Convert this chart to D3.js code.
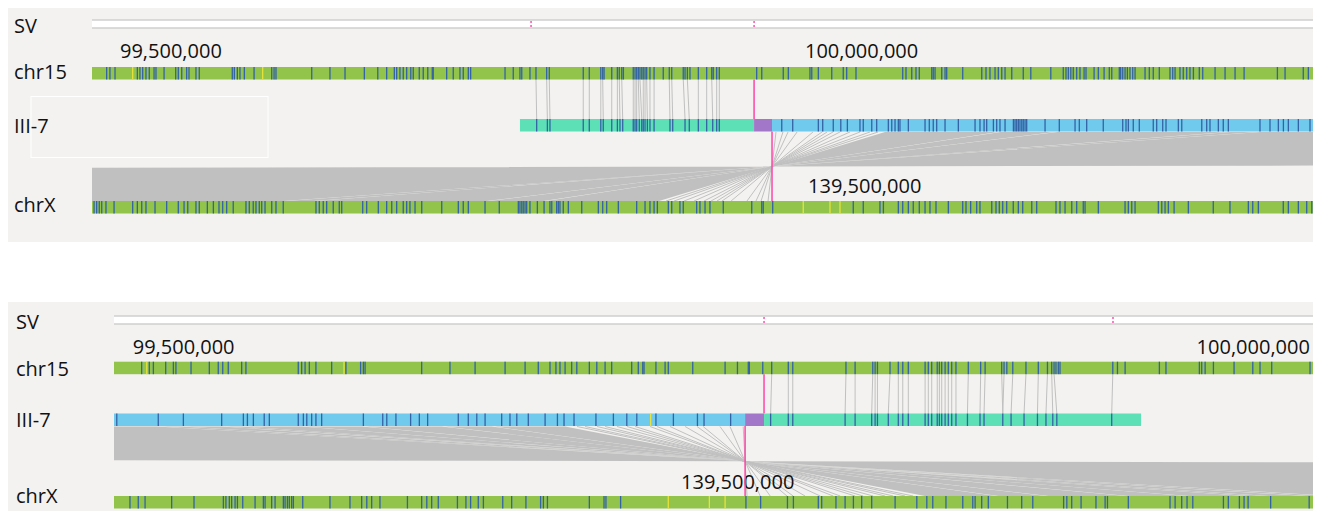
<!DOCTYPE html>
<html>
<head>
<meta charset="utf-8">
<script src="https://cdn.jsdelivr.net/npm/d3@7"></script>
<style>
  body { margin: 0; background: #fff; overflow: hidden; }
  text { font-family: "Open Sans", sans-serif; fill: #111; }
</style>
</head>
<body>
<svg id="chart" width="1323" height="511"></svg>
<script>
// ---- upper view (positions in kb from the window start) ----
const p1Chr15Start = 99479560;
const p1ChrXStart = 138977300;
const p1Span = 891.3;
const p1Ticks15 = [99500000, 100000000];
const p1TicksX = [139500000];
const p1Sv = [320.5, 483.3];
const p1Chr15Marks = [10.7, 13.1, 16.8, 33.1, 35.0, 37.0, 39.4, 41.8, 45.3, 46.7, 52.6, 61.1, 63.0, 65.5, 69.1, 70.8, 75.9, 78.3, 102.4, 103.9, 106.1, 108.0, 111.2, 118.3, 131.2, 132.9, 134.3, 160.4, 173.7, 184.7, 198.8, 208.6, 215.1, 220.7, 222.4, 224.8, 227.2, 229.7, 232.7, 234.5, 238.9, 241.8, 245.1, 248.4, 249.1, 258.9, 263.7, 268.6, 271.0, 274.7, 276.4, 301.5, 307.5, 312.4, 313.7, 319.7, 324.1, 331.9, 333.8, 358.6, 363.0, 371.4, 372.8, 373.8, 379.4, 383.5, 384.9, 386.7, 387.9, 395.1, 396.4, 397.6, 398.8, 400.0, 401.3, 402.4, 403.7, 404.9, 407.3, 410.3, 417.0, 421.4, 423.2, 431.6, 432.9, 434.6, 436.5, 442.6, 448.7, 452.4, 453.5, 456.0, 457.9, 485.2, 488.9, 504.6, 508.3, 524.1, 525.4, 530.2, 540.0, 548.4, 550.9, 557.7, 591.8, 594.2, 598.4, 601.5, 603.9, 613.0, 614.1, 615.4, 620.3, 622.7, 623.9, 635.6, 649.5, 652.6, 655.5, 659.2, 661.6, 664.1, 666.5, 671.4, 679.8, 685.3, 699.9, 709.0, 711.0, 712.7, 714.5, 716.3, 718.8, 721.2, 724.2, 725.6, 731.5, 734.6, 738.8, 742.6, 744.4, 749.9, 750.9, 752.4, 754.1, 755.8, 757.7, 759.7, 761.4, 768.7, 771.8, 774.7, 779.1, 786.9, 788.9, 790.6, 794.2, 796.6, 799.1, 801.5, 804.0, 808.3, 810.8, 819.8, 827.1, 834.4, 841.0, 865.3, 870.9, 884.2, 887.9];
const p1Chr15Yellow = [29.7, 124.6];
const p1Segments = [[312.4, 483.3, 'chr15'], [483.3, 496.4, 'ins'], [496.4, 900, 'chrX']];
const p1ContigMarks = [324.6, 332.4, 334.3, 358.6, 363.0, 371.4, 373.2, 379.4, 383.5, 385.4, 387.4, 395.1, 396.4, 397.6, 399.5, 401.3, 402.4, 403.7, 405.4, 407.3, 410.3, 421.9, 423.9, 432.9, 436.0, 442.6, 448.7, 453.1, 456.0, 457.9, 503.5, 511.5, 530.2, 533.4, 541.1, 546.6, 551.4, 560.6, 563.0, 569.2, 572.8, 581.3, 583.8, 586.2, 588.6, 589.8, 595.9, 608.1, 611.2, 614.1, 616.6, 622.7, 632.4, 644.6, 648.2, 651.2, 653.1, 658.0, 660.4, 662.8, 666.5, 672.6, 673.8, 675.0, 676.2, 677.4, 678.7, 679.8, 681.1, 682.3, 695.7, 706.1, 717.6, 720.7, 726.1, 738.2, 752.4, 754.8, 756.5, 760.1, 764.5, 774.7, 777.2, 781.6, 784.0, 793.0, 795.5, 810.1, 813.7, 816.1, 822.2, 825.8, 829.5, 852.6, 859.9, 866.0, 869.7, 873.3, 880.6, 889.1];
const p1ContigYellow = [];
const p1ChrXMarks = [1.5, 3.4, 5.3, 7.1, 10.2, 16.1, 29.7, 33.1, 36.3, 39.4, 46.0, 54.5, 63.0, 67.2, 69.9, 75.9, 78.3, 84.2, 88.6, 92.7, 95.4, 98.3, 103.1, 112.4, 114.8, 117.7, 119.7, 122.1, 123.9, 126.3, 131.2, 134.3, 139.6, 163.5, 165.9, 168.8, 171.3, 176.1, 180.5, 182.3, 197.6, 200.5, 209.0, 215.1, 218.8, 222.4, 227.2, 229.7, 232.1, 235.8, 240.7, 255.3, 267.4, 271.0, 274.7, 286.9, 297.3, 311.2, 312.4, 313.7, 314.8, 316.1, 317.3, 319.7, 325.1, 330.0, 334.3, 335.6, 339.2, 340.4, 341.6, 344.0, 347.7, 357.5, 369.6, 372.8, 375.7, 384.2, 397.6, 403.7, 407.3, 410.3, 412.7, 420.7, 423.2, 429.2, 431.6, 441.4, 443.8, 447.5, 451.1, 460.8, 481.6, 488.9, 490.0, 496.9, 555.7, 563.0, 575.2, 577.7, 588.6, 591.8, 595.9, 599.5, 603.9, 608.1, 611.7, 616.1, 625.1, 635.6, 638.0, 641.4, 645.8, 648.2, 656.8, 659.9, 662.3, 664.8, 667.7, 672.5, 676.2, 679.4, 686.0, 689.6, 703.7, 706.6, 710.3, 715.2, 718.8, 723.6, 724.9, 734.6, 754.1, 756.5, 759.0, 761.4, 778.4, 780.9, 783.3, 785.7, 789.9, 800.3, 818.5, 830.7, 844.1, 847.3, 851.4, 869.6, 873.3, 880.6, 886.7, 890.4];
const p1ChrXYellow = [519.2, 538.7, 546.0];
// chr15 -> contig anchors [chr15, contig]
const p1Links = [[324.1, 324.6], [331.9, 332.4], [333.8, 334.3], [358.6, 358.6], [363.0, 363.0], [371.4, 371.4], [372.8, 373.2], [379.4, 379.4], [383.5, 383.5], [384.9, 385.4], [386.7, 387.4], [395.1, 395.1], [396.4, 396.4], [397.6, 397.6], [398.8, 399.5], [400.0, 401.3], [402.4, 402.4], [403.7, 403.7], [404.9, 405.4], [407.3, 407.3], [410.3, 410.3], [421.4, 421.9], [423.2, 423.9], [431.6, 432.9], [434.6, 436.0], [442.6, 442.6], [448.7, 448.7], [452.4, 453.1], [456.0, 456.0], [457.9, 457.9]];
// contig -> chrX single inverted anchors [contig, chrX]
const p1Fan = [[499.3, 493.5], [504.4, 488.4], [508.1, 484.7], [514.7, 478.1], [526.3, 466.5], [532.9, 459.9], [536.6, 456.2], [540.9, 451.9], [546.0, 446.8], [553.3, 439.5], [560.6, 432.2], [567.9, 424.9], [573.8, 419.0]];
// inverted blocks [contigA, contigB, chrXA, chrXB]
const p1Blocks = [[578.9, 661.4, 413.9, 331.4], [663.2, 703.0, 329.6, 289.8], [704.8, 829.3, 288.0, 163.5], [831.1, 851.2, 161.7, 141.6], [853.0, 15096, 139.8, -14103.2]];
const p1Breaks = [483.3, 496.4];

// ---- lower view ----
const p2Chr15Start = 99491200;
const p2ChrXStart = 139233500;
const p2Span = 563.5;
const p2Ticks15 = [99500000, 100000000];
const p2TicksX = [139500000];
const p2Sv = [305.5, 469.5];
const p2Chr15Marks = [13.0, 16.6, 18.5, 24.3, 27.9, 29.1, 36.2, 44.8, 49.0, 51.1, 53.7, 60.0, 62.0, 86.6, 88.2, 89.8, 91.8, 94.9, 102.3, 109.0, 115.9, 117.2, 118.0, 144.6, 157.9, 169.7, 183.8, 193.2, 199.4, 204.9, 207.7, 209.6, 212.0, 215.1, 217.5, 223.4, 226.9, 230.8, 233.9, 243.3, 246.4, 248.5, 249.1, 254.7, 259.0, 260.5, 272.0, 287.2, 293.0, 298.1, 298.6, 304.9, 309.1, 316.9, 319.0, 344.0, 348.3, 356.6, 357.7, 358.8, 364.7, 368.6, 370.7, 373.3, 381.2, 382.7, 384.3, 386.9, 387.9, 389.0, 390.6, 392.1, 393.7, 395.7, 401.5, 407.3, 409.4, 417.2, 418.3, 419.6, 422.4, 428.6, 434.4, 438.7, 440.7, 441.8, 442.7, 443.8, 444.6, 469.4, 471.6, 475.2, 491.3, 494.4, 510.1, 511.2, 512.8, 516.7, 526.4, 535.2, 538.6, 544.1, 562.1];
const p2Chr15Yellow = [15.4, 108.1];
const p2Segments = [[-10, 296.6, 'chrX'], [296.6, 305.5, 'ins'], [305.5, 482.7, 'chr15']];
const p2ContigMarks = [1.3, 20.8, 32.6, 50.6, 60.8, 62.7, 65.5, 70.6, 73.0, 86.6, 89.0, 90.6, 92.9, 94.9, 97.6, 117.2, 126.3, 128.2, 132.5, 139.4, 143.5, 147.4, 161.8, 166.5, 170.5, 174.4, 182.2, 186.1, 189.3, 194.7, 202.6, 208.4, 211.5, 216.2, 226.5, 234.7, 241.0, 245.7, 254.7, 262.9, 274.2, 277.3, 289.8, 308.6, 316.9, 319.0, 343.6, 348.3, 356.1, 357.7, 358.8, 363.9, 368.6, 370.7, 373.3, 381.2, 382.7, 384.3, 386.9, 387.9, 389.0, 390.6, 392.1, 393.7, 395.7, 401.1, 407.0, 408.9, 417.7, 421.6, 427.7, 434.0, 438.0, 441.2, 443.1, 468.9];
const p2ContigYellow = [252.2];
const p2ChrXMarks = [7.5, 11.4, 14.6, 27.1, 37.6, 51.4, 52.6, 54.2, 55.3, 56.9, 58.0, 60.5, 66.3, 70.2, 71.0, 74.1, 75.7, 79.6, 80.4, 81.5, 82.4, 83.5, 84.3, 88.7, 101.5, 110.9, 116.4, 118.8, 121.1, 125.0, 137.9, 144.6, 147.0, 149.3, 152.4, 161.4, 165.4, 167.6, 171.2, 173.6, 182.7, 186.9, 193.6, 200.5, 201.8, 203.7, 223.4, 230.3, 231.2, 238.1, 297.0, 303.9, 316.5, 319.3, 331.0, 332.6, 339.3, 343.6, 347.5, 351.4, 356.1, 367.1, 377.3, 382.0, 384.8, 391.0, 398.9, 403.6, 404.7, 407.8, 410.9, 419.9, 426.6, 431.8, 446.3, 447.8, 450.1, 454.5, 461.5, 465.8, 466.9, 476.7, 496.3, 498.7, 501.8, 504.3, 507.0, 521.4, 523.7, 528.9, 531.1, 533.0, 543.6, 561.7];
const p2ChrXYellow = [260.5, 279.8, 287.2];
const p2Links = [[309.1, 308.6], [316.9, 316.9], [319.0, 319.0], [344.0, 343.6], [348.3, 348.3], [356.6, 356.1], [357.7, 357.7], [358.8, 358.8], [364.7, 363.9], [368.6, 368.6], [370.7, 370.7], [373.3, 373.3], [381.2, 381.2], [382.7, 382.7], [384.3, 384.3], [386.9, 386.9], [387.9, 387.9], [389.0, 389.0], [390.6, 390.6], [392.1, 392.1], [393.7, 393.7], [395.7, 395.7], [401.5, 401.1], [407.3, 407.0], [409.4, 408.9], [417.2, 417.7], [418.3, 417.7], [422.4, 421.6], [428.6, 427.7], [434.4, 434.0], [438.7, 438.0], [440.7, 441.2], [441.8, 443.1], [469.4, 468.9]];
const p2Fan = [[295.7, 297.5], [289.5, 303.7], [284.8, 308.4], [276.9, 316.3], [274.0, 319.2], [268.4, 324.8], [261.3, 331.9], [255.2, 338.0], [251.9, 341.3], [244.9, 348.3], [241.1, 352.1], [236.4, 356.8], [230.8, 362.4], [227.0, 366.2], [221.4, 371.8], [217.6, 375.6]];
const p2Blocks = [[212.0, 178.6, 381.2, 414.6], [177.5, 155.1, 415.7, 438.1], [154.0, 117.5, 439.2, 475.7], [116.4, 89.3, 476.8, 503.9], [88.2, 61.1, 505.0, 532.1], [60.0, 51.7, 533.2, 541.5], [50.6, 32.9, 542.6, 560.3], [31.8, 21.2, 561.4, 572.0], [20.0, -9103.4, 573.2, 9696.6]];
const p2Breaks = [305.5, 296.6];

const rowNames = ['SV', 'chr15', 'III-7', 'chrX'];

const colors = {
    bg: '#f3f2f0', green: '#92c34b', mark: '#3463a5', yellow: '#e8e23a',
    chr15: '#5de0b6', ins: '#a277c9', chrX: '#6fcaee', link: '#c0c0c0', pink: '#ff45a8'
};

const panels = [
    {
        top: 8, bottom: 242, x0: 92, x1: 1313, labelX: 14,
        sv: 20, chr15: 67, contig: 119, chrX: 201, barH: 12.5,
        labelY: [33, 79, 133, 212], tickY: 58, tickXY: 193,
        chr15Start: p1Chr15Start, chrXStart: p1ChrXStart, span: p1Span,
        ticks15: p1Ticks15, ticksX: p1TicksX, sv_: p1Sv,
        chr15Marks: p1Chr15Marks, chr15Yellow: p1Chr15Yellow,
        segments: p1Segments, contigMarks: p1ContigMarks, contigYellow: p1ContigYellow,
        chrXMarks: p1ChrXMarks, chrXYellow: p1ChrXYellow,
        links: p1Links, fan: p1Fan, blocks: p1Blocks, breaks: p1Breaks,
        labelBox: true
    },
    {
        top: 302, bottom: 511, x0: 114, x1: 1313, labelX: 16,
        sv: 316, chr15: 361.7, contig: 413.5, chrX: 496, barH: 12.5,
        labelY: [329, 376, 427, 503], tickY: 354, tickXY: 489,
        chr15Start: p2Chr15Start, chrXStart: p2ChrXStart, span: p2Span,
        ticks15: p2Ticks15, ticksX: p2TicksX, sv_: p2Sv,
        chr15Marks: p2Chr15Marks, chr15Yellow: p2Chr15Yellow,
        segments: p2Segments, contigMarks: p2ContigMarks, contigYellow: p2ContigYellow,
        chrXMarks: p2ChrXMarks, chrXYellow: p2ChrXYellow,
        links: p2Links, fan: p2Fan, blocks: p2Blocks, breaks: p2Breaks,
        labelBox: false
    }
];

const svg = d3.select('#chart');
const defs = svg.append('defs');
const fmt = d3.format(',');

function drawMarks(g, xs, scale, y, h, color, w) {
    g.append('g')
        .selectAll('rect')
        .data(xs)
        .join('rect')
        .attr('x', d => scale(d) - w / 2)
        .attr('y', y)
        .attr('width', w)
        .attr('height', h)
        .attr('fill', color);
}

panels.forEach((p, i) => {
    const g = svg.append('g');

    // bp scales for the tick labels, kb-offset scale for the marks
    const x15bp = d3.scaleLinear().domain([p.chr15Start, p.chr15Start + p.span * 1000]).range([p.x0, p.x1]);
    const xXbp = d3.scaleLinear().domain([p.chrXStart, p.chrXStart + p.span * 1000]).range([p.x0, p.x1]);
    const xk = d3.scaleLinear().domain([0, p.span]).range([p.x0, p.x1]);
    const h = p.barH;

    g.append('rect')
        .attr('x', 8).attr('y', p.top)
        .attr('width', p.x1 - 8).attr('height', p.bottom - p.top)
        .attr('fill', colors.bg);

    if (p.labelBox) {
        g.append('rect')
            .attr('x', 31).attr('y', 96.5).attr('width', 237).attr('height', 61)
            .attr('fill', 'none').attr('stroke', '#ffffff').attr('stroke-width', 1);
    }

    // row names
    g.selectAll('text.row')
        .data(rowNames)
        .join('text')
        .attr('class', 'row')
        .attr('x', p.labelX)
        .attr('y', (d, j) => p.labelY[j])
        .attr('font-size', 20)
        .text(d => d);

    // SV track
    g.append('rect')
        .attr('x', p.x0).attr('y', p.sv)
        .attr('width', p.x1 - p.x0).attr('height', 8)
        .attr('fill', '#fff');
    g.selectAll('line.svline')
        .data([p.sv, p.sv + 8])
        .join('line')
        .attr('class', 'svline')
        .attr('x1', p.x0).attr('x2', p.x1)
        .attr('y1', d => d).attr('y2', d => d)
        .attr('stroke', '#cfcfcf').attr('stroke-width', 1.6);
    g.selectAll('line.svtick')
        .data(p.sv_)
        .join('line')
        .attr('class', 'svtick')
        .attr('x1', d => xk(d)).attr('x2', d => xk(d))
        .attr('y1', p.sv + 1).attr('y2', p.sv + 7)
        .attr('stroke', colors.pink).attr('stroke-width', 1.4)
        .attr('stroke-dasharray', '2,2');

    // tick labels
    g.selectAll('text.t15')
        .data(p.ticks15)
        .join('text')
        .attr('class', 't15')
        .attr('x', d => x15bp(d))
        .attr('y', p.tickY)
        .attr('font-size', 20)
        .text(d => fmt(d));

    // chr15 -> contig links
    g.append('g')
        .selectAll('line')
        .data(p.links)
        .join('line')
        .attr('x1', d => xk(d[0])).attr('y1', p.chr15 + h)
        .attr('x2', d => xk(d[1])).attr('y2', p.contig)
        .attr('stroke', colors.link).attr('stroke-width', 1);

    // inverted alignment to chrX, clipped to the track width
    const clipId = 'clip' + i;
    defs.append('clipPath').attr('id', clipId)
        .append('rect')
        .attr('x', p.x0).attr('y', p.contig + h)
        .attr('width', p.x1 - p.x0).attr('height', p.chrX - p.contig - h);
    const inv = g.append('g').attr('clip-path', `url(#${clipId})`);
    const yTop = p.contig + h + 0.5;
    const yBot = p.chrX;
    inv.selectAll('path')
        .data(p.blocks)
        .join('path')
        .attr('d', d => `M${xk(d[0])},${yTop}L${xk(d[1])},${yTop}L${xk(d[3])},${yBot}L${xk(d[2])},${yBot}Z`)
        .attr('fill', colors.link);
    inv.selectAll('line')
        .data(p.fan)
        .join('line')
        .attr('x1', d => xk(d[0])).attr('y1', yTop)
        .attr('x2', d => xk(d[1])).attr('y2', yBot)
        .attr('stroke', colors.link).attr('stroke-width', 1);

    // chrX tick label (drawn over the links)
    g.selectAll('text.tX')
        .data(p.ticksX)
        .join('text')
        .attr('class', 'tX')
        .attr('x', d => xXbp(d))
        .attr('y', p.tickXY)
        .attr('font-size', 20)
        .text(d => fmt(d));

    // breakpoint lines
    g.append('line')
        .attr('x1', xk(p.breaks[0])).attr('x2', xk(p.breaks[0]))
        .attr('y1', p.chr15 + h).attr('y2', p.contig)
        .attr('stroke', colors.pink).attr('stroke-width', 1.5);
    g.append('line')
        .attr('x1', xk(p.breaks[1])).attr('x2', xk(p.breaks[1]))
        .attr('y1', p.contig + h).attr('y2', p.chrX)
        .attr('stroke', colors.pink).attr('stroke-width', 1.5);

    // chr15 bar
    g.append('rect')
        .attr('x', p.x0).attr('y', p.chr15)
        .attr('width', p.x1 - p.x0).attr('height', h)
        .attr('fill', colors.green);
    drawMarks(g, p.chr15Marks, xk, p.chr15, h, colors.mark, 1.3);
    drawMarks(g, p.chr15Yellow, xk, p.chr15, h, colors.yellow, 1.3);

    // contig bar
    g.append('g')
        .selectAll('rect')
        .data(p.segments)
        .join('rect')
        .attr('x', d => xk(Math.max(d[0], 0)))
        .attr('y', p.contig)
        .attr('width', d => xk(Math.min(d[1], p.span)) - xk(Math.max(d[0], 0)))
        .attr('height', h)
        .attr('fill', d => colors[d[2]]);
    drawMarks(g, p.contigMarks, xk, p.contig, h, colors.mark, 1.3);
    drawMarks(g, p.contigYellow, xk, p.contig, h, colors.yellow, 1.3);

    // chrX bar
    g.append('rect')
        .attr('x', p.x0).attr('y', p.chrX)
        .attr('width', p.x1 - p.x0).attr('height', h)
        .attr('fill', colors.green);
    drawMarks(g, p.chrXMarks, xk, p.chrX, h, colors.mark, 1.3);
    drawMarks(g, p.chrXYellow, xk, p.chrX, h, colors.yellow, 1.3);
});
</script>
</body>
</html>
